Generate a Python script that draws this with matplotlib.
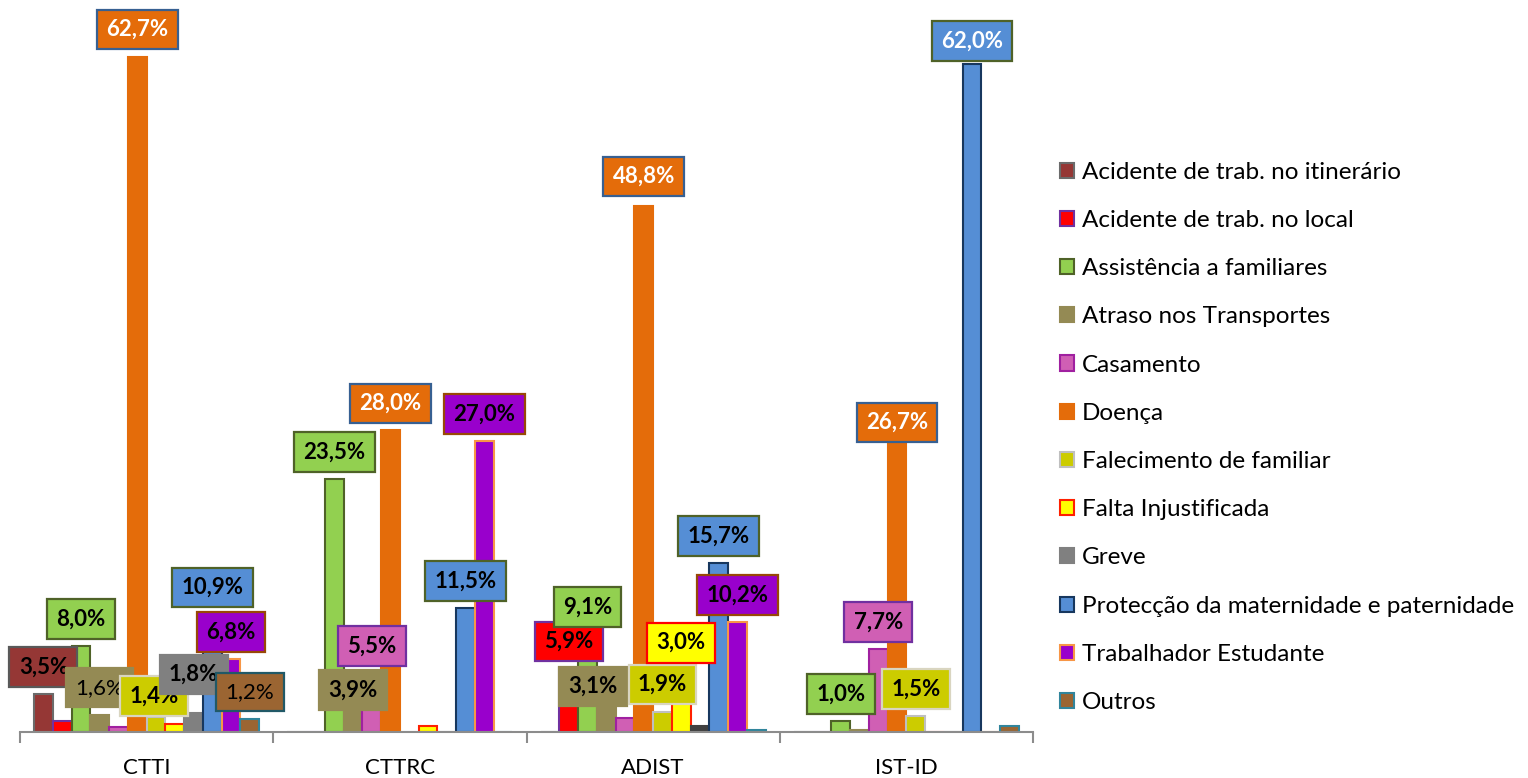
import matplotlib
matplotlib.use('Agg')
import matplotlib.pyplot as plt
import numpy as np
from matplotlib.patches import Patch

plt.rcParams['font.family'] = ['Lato', 'DejaVu Sans']

# dados
categorias = ['CTTI', 'CTTRC', 'ADIST', 'IST-ID']
series = ['Acidente de trab. no itinerário', 'Acidente de trab. no local',
          'Assistência a familiares', 'Atraso nos Transportes', 'Casamento',
          'Doença', 'Falecimento de familiar', 'Falta Injustificada', 'Greve',
          'Protecção da maternidade e paternidade', 'Trabalhador Estudante', 'Outros']

ctti = [3.5, 1.0, 8.0, 1.6, 0.5, 62.7, 1.4, 0.7, 1.8, 10.9, 6.8, 1.2]
cttrc = [0, 0, 23.5, 3.9, 5.5, 28.0, 0, 0.6, 0, 11.5, 27.0, 0]
adist = [0, 5.9, 9.1, 3.1, 1.3, 48.8, 1.9, 3.0, 0.6, 15.7, 10.2, 0.2]
istid = [0, 0, 1.0, 0.2, 7.7, 26.7, 1.5, 0, 0, 62.0, 0, 0.6]

# rotulos visiveis (1 = mostra)
rot_ctti = [1, 0, 1, 1, 0, 1, 1, 0, 1, 1, 1, 1]
rot_cttrc = [0, 0, 1, 1, 1, 1, 0, 0, 0, 1, 1, 0]
rot_adist = [0, 1, 1, 1, 0, 1, 1, 1, 0, 1, 1, 0]
rot_istid = [0, 0, 1, 0, 1, 1, 1, 0, 0, 1, 0, 0]

valores = [ctti, cttrc, adist, istid]
rotulos = [rot_ctti, rot_cttrc, rot_adist, rot_istid]

# estilos
cores = ['#953735', '#FF0000', '#92D050', '#948A54', '#D05FB4', '#E46C0A',
         '#CCCC00', '#FFFF00', '#808080', '#558ED5', '#9900CC', '#9B6532']
bordas = ['#6B6B6B', '#7030A0', '#4F6228', '#948A54', '#A020A0', '#E46C0A',
          '#BFBFBF', '#FF2000', '#808080', '#17375E', '#F79646', '#31859C']
bordas_rot = ['#595959', '#7030A0', '#4F6228', None, '#7030A0', '#376092',
              '#D9D5C0', '#FF0000', None, '#4F6228', '#984807', '#215967']
cor_extra = {(2, 8): '#404040'}
texto_branco = {(0, 5), (1, 5), (2, 5), (3, 5), (3, 9)}
texto_normal = {(0, 3), (0, 11)}
# deslocamento do rotulo (dx, dy) em pixels
desloc = {(0, 6): (-2, 21), (0, 8): (0, 38), (1, 3): (0, 0), (2, 3): (-13, 12),
          (2, 7): (0, 57), (2, 5): (0, 30), (3, 5): (0, 22), (3, 9): (0, 23)}

fig = plt.figure(figsize=(15.28, 7.78), dpi=100)
ax = fig.add_axes([20 / 1528, 46 / 778, 1013 / 1528, 732 / 778])

n = len(series)
w = 1 / (n + 1.5)
x = np.arange(len(categorias))

for i in range(n):
    vals = [valores[c][i] for c in range(len(categorias))]
    pos = x - 0.5 + 0.75 * w + w * i + w / 2
    bars = ax.bar(pos, vals, w, color=cores[i], edgecolor=bordas[i], linewidth=1.5, zorder=2)
    for c, b in enumerate(bars):
        if (c, i) in cor_extra:
            b.set_facecolor(cor_extra[(c, i)])
            b.set_edgecolor(cor_extra[(c, i)])

for c in range(len(categorias)):
    for i in range(n):
        if not rotulos[c][i]:
            continue
        v = valores[c][i]
        xc = c - 0.5 + 0.75 * w + w * i + w / 2
        dx, dy = desloc.get((c, i), (0, 27))
        txt = f"{v:.1f}%".replace('.', ',')
        ec = bordas_rot[i] if bordas_rot[i] else cores[i]
        ax.annotate(txt, (xc, v), xytext=(dx, dy), textcoords='offset pixels',
                    ha='center', va='center', fontsize=16,
                    fontweight='normal' if (c, i) in texto_normal else 'bold',
                    color='white' if (c, i) in texto_branco else 'black',
                    bbox=dict(boxstyle='square,pad=0.42', fc=cores[i], ec=ec, lw=1.6),
                    zorder=5 + c * n + i, annotation_clip=False)

ax.set_xlim(-0.5, 3.5)
ax.set_ylim(0, 67.96)
for s in ['top', 'right', 'left']:
    ax.spines[s].set_visible(False)
ax.spines['bottom'].set_color('#8C8C8C')
ax.spines['bottom'].set_linewidth(1.5)
ax.set_yticks([])
ax.set_xticks(x)
ax.set_xticklabels(categorias, fontsize=16)
ax.tick_params(axis='x', which='major', length=0, pad=19)
ax.set_xticks(np.arange(-0.5, 4, 1), minor=True)
ax.tick_params(axis='x', which='minor', length=8, width=1.5, color='#8C8C8C', direction='out')

handles = [Patch(facecolor=cores[i], edgecolor=bordas[i], linewidth=1.5) for i in range(n)]
fig.legend(handles, series, loc='upper left', bbox_to_anchor=(1050 / 1528, 1 - 152 / 778),
           frameon=False, fontsize=17.5, handlelength=0.58, handleheight=0.58,
           handletextpad=0.32, labelspacing=1.12, borderaxespad=0)

fig.savefig('out.png', dpi=100)
